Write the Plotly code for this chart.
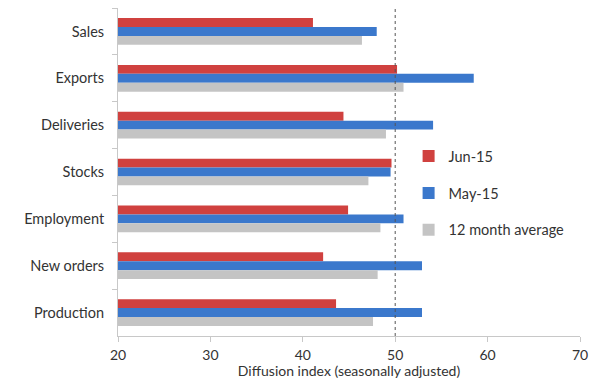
import plotly.graph_objects as go

# Survey components, listed top to bottom
categories = ["Sales", "Exports", "Deliveries", "Stocks", "Employment", "New orders", "Production"]

# Diffusion index readings (seasonally adjusted)
jun_15 = [41.1, 50.2, 44.4, 49.6, 44.9, 42.2, 43.6]
may_15 = [48.0, 58.5, 54.1, 49.5, 50.9, 52.9, 52.9]
avg_12m = [46.4, 50.9, 49.0, 47.1, 48.4, 48.1, 47.6]

x_ticks = [20, 30, 40, 50, 60, 70]
neutral_level = 50

series = [
    ("Jun-15", jun_15, "#D0413F"),
    ("May-15", may_15, "#3B78CC"),
    ("12 month average", avg_12m, "#C4C4C4"),
]

text_color = "#333333"
font_family = "Lato, 'Liberation Sans', Arial, sans-serif"

fig = go.Figure()
for i, (name, values, color) in enumerate(series):
    fig.add_trace(go.Bar(
        y=categories,
        x=values,
        base=0,
        name=name,
        orientation="h",
        marker=dict(color=color, line=dict(width=0)),
        legendgroup=f"g{i}",
    ))

# 50 = no change line
fig.add_shape(
    type="line", xref="x", yref="paper",
    x0=neutral_level, x1=neutral_level, y0=0, y1=1,
    line=dict(color="#555555", width=1, dash="dot"),
)

fig.update_layout(
    width=600, height=379,
    margin=dict(l=118, r=20, t=8, b=43),
    paper_bgcolor="white",
    plot_bgcolor="white",
    barmode="group",
    bargap=0.43,
    bargroupgap=0,
    font=dict(family=font_family, size=14, color=text_color),
    showlegend=True,
    legend=dict(
        x=0.629, y=0.597, xanchor="left", yanchor="top",
        font=dict(size=14.5, color=text_color),
        traceorder="grouped",
        tracegroupgap=15,
        bgcolor="rgba(0,0,0,0)",
    ),
    xaxis=dict(
        range=[20, 70],
        tickvals=x_ticks,
        ticktext=[str(v) for v in x_ticks],
        showgrid=False,
        zeroline=False,
        showline=True,
        linecolor="#C8C8C8",
        linewidth=1,
        ticks="outside",
        ticklen=5,
        tickcolor="#C8C8C8",
        ticklabelstandoff=1,
        automargin=False,
        tickfont=dict(size=14, color=text_color),
        title=dict(text="Diffusion index (seasonally adjusted)",
                   font=dict(size=14, color=text_color), standoff=3),
    ),
    yaxis=dict(
        autorange="reversed",
        type="category",
        showgrid=False,
        showline=True,
        linecolor="#C8C8C8",
        linewidth=1,
        ticks="outside",
        ticklen=5,
        tickcolor="#C8C8C8",
        tickson="boundaries",
        ticklabelstandoff=10,
        automargin=False,
        tickfont=dict(size=14.5, color=text_color),
    ),
)

fig.write_html("out.html")
